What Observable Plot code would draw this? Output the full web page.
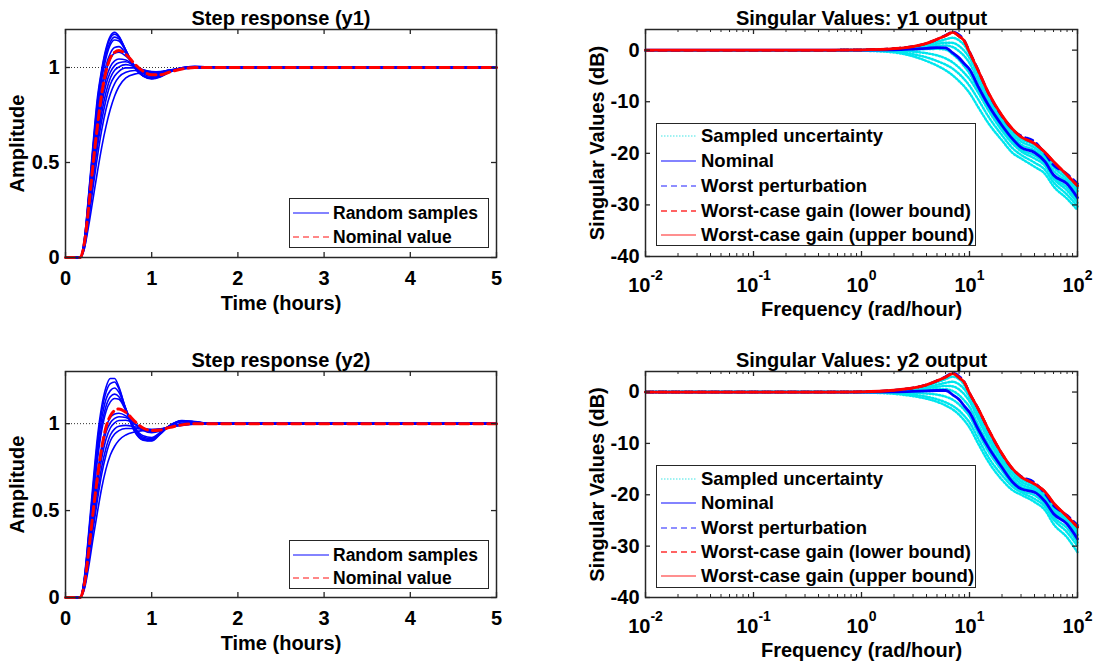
<!DOCTYPE html>
<html><head><meta charset="utf-8">
<script src="https://cdn.jsdelivr.net/npm/d3@7"></script>
<script src="https://cdn.jsdelivr.net/npm/@observablehq/plot@0.6"></script>
<style>
body{margin:0;background:#fff;}
#root{position:relative;width:1099px;height:664px;overflow:hidden;background:#fff;font-family:"Liberation Sans",Arial,Helvetica,sans-serif;}
.legend{position:absolute;background:#fff;border:1.5px solid #262626;box-sizing:border-box;font-weight:bold;color:#000;}
.legend .lab{position:absolute;white-space:nowrap;height:24px;line-height:24px;}
</style></head><body><div id="root"></div>
<script>
const FONT = '"Liberation Sans", Arial, Helvetica, sans-serif';
const INK = "#262626";

// ---------- Step responses ----------
const stepTime = [0, 0.17, 0.22, 0.27, 0.32, 0.37, 0.42, 0.47, 0.52, 0.57, 0.62, 0.7, 0.8, 0.9, 1.0, 1.1, 1.2, 1.35, 1.5, 1.7, 2.0, 5];
const stepXTicks = [0, 1, 2, 3, 4, 5];
const stepYTicks = [0, 0.5, 1];

const y1Samples = [
  [0,0,0.10,0.34,0.60,0.84,0.99,1.10,1.165,1.185,1.165,1.09,1.0,0.955,0.94,0.95,0.973,0.998,1.006,1.002,1,1],
  [0,0,0.10,0.33,0.58,0.82,0.98,1.09,1.155,1.175,1.16,1.09,1.0,0.955,0.942,0.953,0.975,0.998,1.005,1.002,1,1],
  [0,0,0.09,0.32,0.57,0.80,0.96,1.07,1.135,1.16,1.15,1.09,1.005,0.958,0.945,0.955,0.977,0.998,1.004,1.001,1,1],
  [0,0,0.09,0.31,0.55,0.78,0.94,1.05,1.12,1.145,1.14,1.085,1.005,0.96,0.948,0.958,0.978,0.998,1.003,1.001,1,1],
  [0,0,0.08,0.29,0.52,0.74,0.90,1.01,1.075,1.105,1.11,1.075,1.01,0.968,0.953,0.96,0.978,0.997,1.002,1.001,1,1],
  [0,0,0.08,0.28,0.50,0.71,0.87,0.98,1.045,1.075,1.08,1.06,1.012,0.975,0.96,0.964,0.98,0.997,1.002,1.001,1,1],
  [0,0,0.07,0.26,0.47,0.67,0.83,0.94,1.005,1.035,1.045,1.04,1.01,0.98,0.967,0.968,0.982,0.997,1.001,1,1,1],
  [0,0,0.07,0.25,0.45,0.64,0.80,0.91,0.975,1.01,1.025,1.03,1.008,0.985,0.972,0.972,0.983,0.996,1.0,1,1,1],
  [0,0,0.06,0.23,0.43,0.61,0.76,0.87,0.945,0.985,1.003,1.015,1.005,0.988,0.977,0.976,0.985,0.996,1.0,1,1,1],
  [0,0,0.06,0.22,0.41,0.58,0.72,0.83,0.91,0.955,0.98,0.998,0.998,0.988,0.979,0.978,0.986,0.995,0.999,1,1,1],
  [0,0,0.05,0.20,0.37,0.53,0.67,0.78,0.86,0.915,0.95,0.975,0.984,0.981,0.978,0.979,0.986,0.994,0.998,1,1,1],
  [0,0,0.05,0.17,0.31,0.45,0.58,0.69,0.78,0.85,0.90,0.945,0.965,0.97,0.972,0.976,0.983,0.991,0.997,0.999,1,1]
];
const y1Nominal = [0,0,0.08,0.27,0.49,0.69,0.86,0.98,1.05,1.08,1.09,1.07,1.02,0.98,0.962,0.962,0.975,0.992,1.0,1.0,1,1];

const y2Samples = [
  [0,0,0.12,0.38,0.66,0.92,1.10,1.21,1.26,1.26,1.21,1.08,0.955,0.905,0.90,0.94,0.985,1.018,1.012,1.0,1,1],
  [0,0,0.11,0.36,0.63,0.89,1.07,1.18,1.23,1.24,1.20,1.085,0.96,0.908,0.903,0.943,0.986,1.017,1.011,1.0,1,1],
  [0,0,0.11,0.35,0.61,0.86,1.03,1.14,1.19,1.205,1.18,1.085,0.968,0.914,0.908,0.946,0.986,1.015,1.01,1.0,1,1],
  [0,0,0.10,0.33,0.58,0.82,0.99,1.10,1.155,1.17,1.155,1.08,0.975,0.922,0.914,0.948,0.985,1.012,1.008,1.0,1,1],
  [0,0,0.10,0.32,0.56,0.79,0.96,1.07,1.125,1.145,1.14,1.075,0.98,0.93,0.92,0.95,0.985,1.01,1.007,1.0,1,1],
  [0,0,0.08,0.28,0.50,0.71,0.87,0.98,1.035,1.055,1.06,1.045,1.0,0.962,0.948,0.958,0.98,1.0,1.005,1.0,1,1],
  [0,0,0.08,0.27,0.48,0.68,0.84,0.95,1.005,1.03,1.04,1.035,1.0,0.968,0.955,0.961,0.98,0.998,1.004,1.0,1,1],
  [0,0,0.07,0.25,0.46,0.65,0.80,0.91,0.975,1.005,1.018,1.02,1.0,0.975,0.962,0.965,0.98,0.997,1.003,1.0,1,1],
  [0,0,0.06,0.23,0.42,0.60,0.75,0.86,0.935,0.97,0.985,0.99,0.982,0.972,0.966,0.968,0.98,0.995,1.0,1.0,1,1],
  [0,0,0.06,0.21,0.39,0.56,0.71,0.82,0.90,0.94,0.96,0.972,0.972,0.968,0.966,0.97,0.98,0.993,0.999,1,1,1],
  [0,0,0.05,0.18,0.34,0.49,0.63,0.74,0.82,0.87,0.905,0.935,0.952,0.96,0.962,0.968,0.978,0.99,0.997,1,1,1]
];
const y2Nominal = [0,0,0.08,0.27,0.49,0.69,0.86,0.98,1.045,1.075,1.085,1.065,1.015,0.975,0.96,0.963,0.977,0.993,1.0,1.0,1,1];

// ---------- Singular values ----------
const freq = [0.01, 0.1, 0.5, 1, 2, 3, 4, 5, 6, 7, 8, 9, 10, 12, 15, 20, 25, 30, 40, 50, 60, 80, 100];
const freqXTicks = [0.01, 0.1, 1, 10, 100];
const freqYTicks = [-40, -30, -20, -10, 0];

const sv1Sampled = [
  [0,0,0,0.03,0.25,0.6,1.1,1.6,2.1,2.4,1.9,0.9,-0.7,-4.2,-8.7,-13.1,-15.7,-17.2,-18.4,-20.1,-22.0,-24.5,-26.7],
  [0,0,0,0.02,0.2,0.45,0.85,1.2,1.45,1.4,0.8,-0.2,-1.5,-5.0,-9.3,-13.6,-16.2,-17.7,-18.9,-20.6,-22.7,-25.0,-27.3],
  [0,0,0,0.02,0.15,0.35,0.6,0.8,0.9,0.6,-0.2,-1.2,-2.5,-5.9,-9.9,-14.1,-16.7,-18.3,-19.4,-21.1,-23.4,-25.5,-27.9],
  [0,0,0,0,0.02,0.1,0.2,0.25,0.1,-0.8,-1.9,-3.2,-4.5,-7.6,-11.3,-15.1,-17.7,-19.3,-20.4,-22.0,-24.6,-26.6,-29.1],
  [0,0,0,0,-0.1,-0.3,-0.6,-1.0,-1.6,-2.4,-3.4,-4.5,-5.6,-8.2,-11.7,-15.6,-18.1,-19.6,-21.0,-22.4,-24.9,-27.2,-29.6],
  [0,0,0,-0.05,-0.3,-0.8,-1.4,-2.1,-2.8,-3.6,-4.6,-5.7,-6.9,-9.5,-12.9,-16.5,-19.0,-20.3,-21.8,-23.2,-25.6,-28.0,-30.3],
  [0,0,-0.01,-0.1,-0.45,-1.2,-2.1,-3.0,-3.9,-4.9,-6.0,-7.1,-8.3,-11.0,-14.2,-17.5,-19.9,-21.0,-22.6,-24.0,-26.4,-28.8,-31.0]
];
const sv1Nominal = [0,0,0,0,0.05,0.2,0.35,0.5,0.45,-0.55,-1.5,-2.7,-3.7,-7.0,-10.7,-14.6,-17.2,-18.85,-19.85,-21.6,-24.2,-25.9,-28.6];
const sv1Worst   = [0,0,0,0.05,0.3,0.7,1.3,2.1,2.9,3.5,3.0,1.8,-0.3,-3.8,-8.4,-12.8,-15.4,-16.6,-17.7,-20.1,-22.3,-24.0,-25.9];
const sv1Lower   = [0,0,0,0.05,0.3,0.7,1.3,2.1,2.8,3.4,2.7,1.6,-0.4,-3.9,-8.3,-12.7,-15.3,-16.8,-18.1,-19.8,-21.6,-24.2,-26.3];
const sv1Upper   = [0,0,0,0.05,0.3,0.7,1.3,2.1,2.8,3.45,2.7,1.7,-0.4,-3.9,-8.3,-12.7,-15.3,-16.8,-18.1,-19.8,-21.6,-24.2,-26.3];

const sv2Sampled = [
  [0,0,0,0.04,0.3,0.7,1.2,1.9,2.5,3.0,2.5,1.3,-0.6,-3.8,-7.9,-12.5,-15.3,-16.9,-18.2,-19.8,-22.0,-24.6,-26.8],
  [0,0,0,0.03,0.25,0.55,0.95,1.4,1.8,2.0,1.5,0.5,-1.0,-4.4,-8.6,-13.0,-15.8,-17.4,-18.6,-20.3,-22.5,-25.0,-27.3],
  [0,0,0,0.02,0.18,0.4,0.7,1.0,1.2,1.1,0.5,-0.5,-1.8,-5.2,-9.3,-13.6,-16.4,-17.9,-19.0,-20.7,-23.0,-25.3,-27.8],
  [0,0,0,0.01,0.1,0.25,0.4,0.55,0.55,0.2,-0.6,-1.7,-2.9,-6.3,-10.2,-14.2,-17.0,-18.4,-19.3,-21.0,-23.4,-25.6,-28.3],
  [0,0,0,0,-0.05,-0.15,-0.3,-0.5,-0.9,-1.5,-2.4,-3.5,-4.7,-7.9,-11.6,-15.3,-17.9,-19.2,-20.1,-21.8,-24.3,-26.5,-29.3],
  [0,0,0,-0.03,-0.2,-0.5,-0.9,-1.4,-2.0,-2.7,-3.6,-4.7,-5.9,-9.0,-12.7,-16.2,-18.4,-19.5,-20.8,-22.3,-24.8,-27.3,-30.0],
  [0,0,-0.01,-0.08,-0.35,-0.8,-1.3,-1.9,-2.6,-3.4,-4.4,-5.6,-6.9,-10.0,-13.6,-17.1,-19.1,-20.0,-21.4,-23.0,-25.7,-28.3,-31.2]
];
const sv2Nominal = [0,0,0,0,0.03,0.12,0.22,0.3,0.3,-0.55,-1.45,-2.8,-3.95,-7.2,-10.8,-14.7,-17.5,-18.85,-19.5,-21.3,-23.7,-25.7,-28.6];
const sv2Worst   = [0,0,0,0.05,0.35,0.8,1.4,2.2,3.0,3.7,3.1,1.9,-0.2,-3.2,-7.4,-12.1,-15.0,-16.4,-17.6,-19.8,-22.1,-24.0,-25.9];
const sv2Lower   = [0,0,0,0.05,0.35,0.8,1.4,2.2,2.9,3.6,2.8,1.8,-0.2,-3.2,-7.3,-12.0,-14.9,-16.5,-17.9,-19.4,-21.6,-24.2,-26.3];
const sv2Upper   = [0,0,0,0.05,0.35,0.8,1.4,2.2,2.9,3.6,2.8,1.8,-0.2,-3.2,-7.3,-12.0,-14.9,-16.5,-17.9,-19.4,-21.6,-24.2,-26.3];

const stepLegendLabels = ["Random samples", "Nominal value"];
const freqLegendLabels = ["Sampled uncertainty", "Nominal", "Worst perturbation", "Worst-case gain (lower bound)", "Worst-case gain (upper bound)"];

// ---------- helpers ----------
const root = document.getElementById("root");
function place(el, left, top) {
  el.style.position = "absolute"; el.style.left = left + "px"; el.style.top = top + "px";
  root.appendChild(el);
}
const baseStyle = {fontFamily: FONT, fontSize: "20px", fontWeight: "bold", color: "#000", background: "none", overflow: "visible"};
const T = {fontSize: 20, lineAnchor: "middle"};

function boxMarks(xt, yt, fw, fh, len) {
  return [
    Plot.frame({stroke: INK, strokeWidth: 1.5}),
    Plot.tickX(xt, {x: d => d, insetTop: fh - len, stroke: INK, strokeWidth: 1.3}),
    Plot.tickX(xt, {x: d => d, insetBottom: fh - len, stroke: INK, strokeWidth: 1.3}),
    Plot.tickY(yt, {y: d => d, insetRight: fw - len, stroke: INK, strokeWidth: 1.3}),
    Plot.tickY(yt, {y: d => d, insetLeft: fw - len, stroke: INK, strokeWidth: 1.3})
  ];
}

function stepPlot(samples, nominal, yMax, title, mt, mb) {
  const width = 549, height = 332, ml = 65, mr = 53;
  const fw = width - ml - mr, fh = height - mt - mb;
  const rows = samples.flatMap((s, i) => s.map((a, j) => ({k: i, t: stepTime[j], a})));
  const nom = nominal.map((a, j) => ({t: stepTime[j], a}));
  return Plot.plot({
    width, height, marginLeft: ml, marginRight: mr, marginTop: mt, marginBottom: mb,
    style: baseStyle,
    x: {domain: [0, 5], axis: null},
    y: {domain: [0, yMax], axis: null},
    marks: [
      Plot.ruleY([1], {stroke: "#333", strokeWidth: 1, strokeDasharray: "1,2"}),
      Plot.line(rows, {x: "t", y: "a", z: "k", stroke: "#0000ff", strokeWidth: 1.6, curve: "monotone-x"}),
      Plot.line(nom, {x: "t", y: "a", stroke: "#ff0000", strokeWidth: 3, strokeDasharray: "9,5", curve: "monotone-x"}),
      ...boxMarks(stepXTicks, stepYTicks, fw, fh, 5),
      Plot.text(stepXTicks, {...T, x: d => d, frameAnchor: "bottom", dy: 21, textAnchor: "middle", text: d => String(d)}),
      Plot.text(stepYTicks, {...T, y: d => d, frameAnchor: "left", dx: -6, textAnchor: "end", text: d => String(d)}),
      Plot.text([title], {...T, frameAnchor: "top", dy: -11, textAnchor: "middle", text: d => d}),
      Plot.text(["Time (hours)"], {...T, frameAnchor: "bottom", dy: 46, textAnchor: "middle", text: d => d}),
      Plot.text(["Amplitude"], {...T, frameAnchor: "left", dx: -48, rotate: -90, textAnchor: "middle", text: d => d})
    ]
  });
}

function freqPlot(sampled, nominal, worst, lower, upper, title, mt, mb) {
  const width = 550, height = 332, ml = 96, mr = 22;
  const fw = width - ml - mr, fh = height - mt - mb;
  const toRows = arr => arr.map((db, j) => ({f: freq[j], db}));
  const sRows = sampled.flatMap((s, i) => s.map((db, j) => ({k: i, f: freq[j], db})));
  const minor = d3.scaleLog().domain([0.01, 100]).ticks().filter(v => !freqXTicks.some(m => Math.abs(m - v) < 1e-9));
  const svg = Plot.plot({
    width, height, marginLeft: ml, marginRight: mr, marginTop: mt, marginBottom: mb,
    style: baseStyle,
    x: {type: "log", domain: [0.01, 100], axis: null},
    y: {domain: [-40, 4], axis: null},
    marks: [
      Plot.line(sRows, {x: "f", y: "db", z: "k", stroke: "#00e6ee", strokeWidth: 2.5, strokeDasharray: "1.3,2", curve: "monotone-x"}),
      Plot.line(toRows(nominal), {x: "f", y: "db", stroke: "#0000ff", strokeWidth: 2.8, curve: "monotone-x"}),
      Plot.line(toRows(worst), {x: "f", y: "db", stroke: "#0000ff", strokeWidth: 2.5, strokeDasharray: "8,5", curve: "monotone-x"}),
      Plot.line(toRows(lower), {x: "f", y: "db", stroke: "#cc0000", strokeWidth: 2.5, strokeDasharray: "8,5", curve: "monotone-x"}),
      Plot.line(toRows(upper), {x: "f", y: "db", stroke: "#ff0000", strokeWidth: 2.8, curve: "monotone-x"}),
      ...boxMarks(freqXTicks, freqYTicks, fw, fh, 5),
      Plot.tickX(minor, {x: d => d, insetTop: fh - 3, stroke: INK, strokeWidth: 1}),
      Plot.tickX(minor, {x: d => d, insetBottom: fh - 3, stroke: INK, strokeWidth: 1}),
      Plot.text(freqXTicks, {...T, x: d => d, frameAnchor: "bottom", dy: 29, textAnchor: "middle", text: d => "10^" + Math.round(Math.log10(d))}),
      Plot.text(freqYTicks, {...T, y: d => d, frameAnchor: "left", dx: -6, textAnchor: "end", text: d => String(d)}),
      Plot.text([title], {...T, frameAnchor: "top", dy: -11, textAnchor: "middle", text: d => d}),
      Plot.text(["Frequency (rad/hour)"], {...T, frameAnchor: "bottom", dy: 53, textAnchor: "middle", text: d => d}),
      Plot.text(["Singular Values (dB)"], {...T, frameAnchor: "left", dx: -48, rotate: -90, textAnchor: "middle", text: d => d})
    ]
  });
  d3.select(svg).selectAll("text").each(function () {
    const t = this.textContent;
    if (t.startsWith("10^")) {
      const e = t.slice(3);
      this.textContent = "10";
      d3.select(this).append("tspan").attr("dy", -12).attr("font-size", "14px").text(e);
    }
  });
  return svg;
}

function legend(left, top, w, h, rowY, labels, styles, fontSize, sampleX, sampleW, textX) {
  const ns = "http://www.w3.org/2000/svg";
  const div = document.createElement("div");
  div.className = "legend";
  Object.assign(div.style, {left: left + "px", top: top + "px", width: w + "px", height: h + "px", fontSize: fontSize + "px"});
  labels.forEach((lab, i) => {
    const y = rowY[i] - 1.5;
    const st = styles[i];
    const s = document.createElementNS(ns, "svg");
    s.setAttribute("width", sampleW); s.setAttribute("height", 6);
    Object.assign(s.style, {position: "absolute", left: sampleX + "px", top: (y - 3) + "px"});
    const ln = document.createElementNS(ns, "line");
    ln.setAttribute("x1", 0); ln.setAttribute("x2", sampleW); ln.setAttribute("y1", 3); ln.setAttribute("y2", 3);
    ln.setAttribute("stroke", st.color); ln.setAttribute("stroke-width", st.width);
    if (st.dash) ln.setAttribute("stroke-dasharray", st.dash);
    s.appendChild(ln); div.appendChild(s);
    const t = document.createElement("div");
    t.className = "lab"; t.textContent = lab;
    Object.assign(t.style, {left: textX + "px", top: (y - 12) + "px"});
    div.appendChild(t);
  });
  root.appendChild(div);
}

// ---------- build ----------
place(stepPlot(y1Samples, y1Nominal, 1.2, "Step response (y1)", 29, 75), 0, 0);
place(freqPlot(sv1Sampled, sv1Nominal, sv1Worst, sv1Lower, sv1Upper, "Singular Values: y1 output", 29, 76), 549, 0);
place(stepPlot(y2Samples, y2Nominal, 1.3, "Step response (y2)", 39, 67), 0, 332);
place(freqPlot(sv2Sampled, sv2Nominal, sv2Worst, sv2Lower, sv2Upper, "Singular Values: y2 output", 39, 67), 549, 332);

const stepStyles = [
  {color: "#5a5aff", width: 1.5},
  {color: "#ff6060", width: 1.5, dash: "6,4"}
];
const freqStyles = [
  {color: "#80eeee", width: 1.5, dash: "1.5,1.5"},
  {color: "#5a5aff", width: 1.5},
  {color: "#6a6aff", width: 1.5, dash: "6,4"},
  {color: "#ff3030", width: 1.5, dash: "6,4"},
  {color: "#ff6a6a", width: 1.5}
];
legend(289, 198, 200, 50, [15, 39], stepLegendLabels, stepStyles, 17.5, 3, 36, 43);
legend(289, 540, 200, 49, [15, 38], stepLegendLabels, stepStyles, 17.5, 3, 36, 43);
legend(656, 123, 320, 123, [13, 38, 63, 88, 112], freqLegendLabels, freqStyles, 18.5, 4, 35, 44);
legend(656, 465, 320, 123, [14, 38, 63, 87, 111], freqLegendLabels, freqStyles, 18.5, 4, 35, 44);
</script></body></html>
